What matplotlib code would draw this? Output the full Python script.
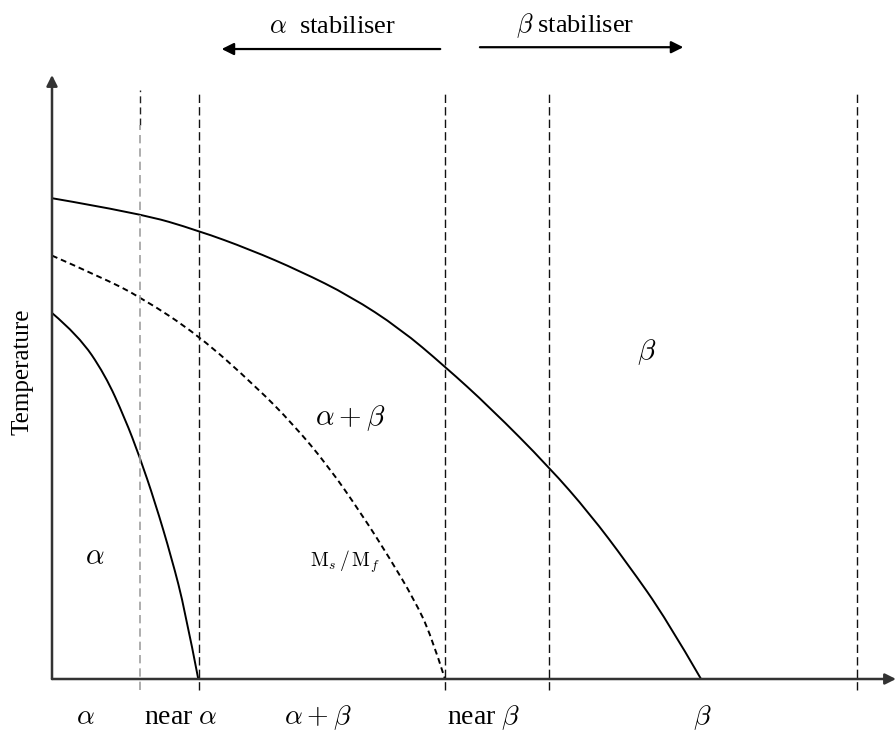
import numpy as np
import matplotlib
matplotlib.use("Agg")
import matplotlib.pyplot as plt
from matplotlib.path import Path
from matplotlib.patches import PathPatch

# ---------------- DATA ----------------
# composition axis 0..100 (arbitrary), temperature axis 0..100 (arbitrary)
BOUNDARY_X = [10.4, 17.4, 46.6, 58.9, 95.4]     # dashed class dividers

BETA_TRANSUS_X = [0, 10.43, 17.30, 23.46, 29.38, 35.31, 41.23, 46.56, 51.90, 58.89, 63.74, 68.13, 72.87, 76.90]
BETA_TRANSUS_T = [79.6, 77.1, 74.26, 71.11, 67.55, 63.41, 58.03, 51.74, 44.95, 35.10, 27.32, 19.21, 9.77, 0]

MS_MF_X = [0, 5.69, 10.43, 17.33, 24.25, 28.55, 32.70, 36.73, 40.05, 42.89, 44.91, 46.56]
MS_MF_T = [70.1, 66.6, 63.3, 56.95, 48.3, 42.2, 35.3, 27.2, 19.9, 13.2, 7.3, 0]

ALPHA_SOLVUS_X = [0, 3.12, 6.28, 8.65, 10.34, 12.20, 14.18, 15.76, 17.33]
ALPHA_SOLVUS_T = [60.6, 56.9, 50.4, 43.1, 36.95, 29.3, 20.0, 11.4, 0]

CLASS_LABELS = [r'$\alpha$', r'near $\alpha$', r'$\alpha+\beta$', r'near $\beta$', r'$\beta$']
CLASS_X = [4.0, 15.3, 31.5, 51.1, 77.0]

REGION_LABELS = [r'$\alpha$', r'$\alpha+\beta$', r'$\beta$']
REGION_X = [5.1, 35.3, 70.5]
REGION_T = [20.2, 43.2, 54.1]
# ----------------------------------------

plt.rcParams['font.family'] = 'Liberation Serif'
plt.rcParams['mathtext.fontset'] = 'cm'


def smooth_path(xs, ys):
    # quadratic B-spline: the read points act as control points,
    # which irons out small reading errors; ends stay on the first/last point
    pts = np.column_stack([xs, ys]).astype(float)
    n = len(pts)
    verts = [pts[0]]
    codes = [Path.MOVETO]
    for i in range(1, n - 1):
        end = pts[n - 1] if i == n - 2 else (pts[i] + pts[i + 1]) / 2
        verts += [pts[i], end]
        codes += [Path.CURVE3, Path.CURVE3]
    return Path(verts, codes)


fig = plt.figure(figsize=(8.96, 7.31), dpi=100)
# plot frame: origin at px (52, 679), x end at 896, y end at 75
ax = fig.add_axes([52 / 896, 52 / 731, 844 / 896, 604 / 731])
ax.set_xlim(0, 100)
ax.set_ylim(0, 100)
ax.axis('off')

# dashed dividers
for i, bx in enumerate(BOUNDARY_X):
    if i == 0:
        ax.plot([bx, bx], [91.7, 97.5], ls=(0, (5, 3)), lw=1, color='#222', clip_on=False)
        ax.plot([bx, bx], [-1.8, 91.7], ls=(0, (5, 3)), lw=1.2, color='#a0a0a0', clip_on=False)
    else:
        ax.plot([bx, bx], [-1.8, 97.5], ls=(0, (6, 3)), lw=1, color='#111', clip_on=False)

# phase boundary curves
ax.add_patch(PathPatch(smooth_path(BETA_TRANSUS_X, BETA_TRANSUS_T), fill=False,
                       edgecolor='black', lw=1.4))
ax.add_patch(PathPatch(smooth_path(MS_MF_X, MS_MF_T), fill=False,
                       edgecolor='black', lw=1.4, ls=(0, (3, 2))))
ax.add_patch(PathPatch(smooth_path(ALPHA_SOLVUS_X, ALPHA_SOLVUS_T), fill=False,
                       edgecolor='black', lw=1.4))

# axes arrows
arrow_kw = dict(arrowstyle='-|>', mutation_scale=16, lw=1.8, color='#333',
                shrinkA=0, shrinkB=0)
ax.annotate('', xy=(0, 100), xytext=(0, 0), arrowprops=arrow_kw, annotation_clip=False)
ax.annotate('', xy=(100, 0), xytext=(0, 0), arrowprops=arrow_kw, annotation_clip=False)

# stabiliser arrows
stab_kw = dict(arrowstyle='-|>', mutation_scale=18, lw=1.6, color='black',
               shrinkA=0, shrinkB=0)
ax.annotate('', xy=(20.1, 104.3), xytext=(46.0, 104.3), arrowprops=stab_kw, annotation_clip=False)
ax.annotate('', xy=(74.8, 104.6), xytext=(50.7, 104.6), arrowprops=stab_kw, annotation_clip=False)
ax.text(33.2, 107.9, r'$\alpha$  stabiliser', fontsize=19, ha='center', va='center', clip_on=False)
ax.text(62.0, 108.2, r'$\beta$ stabiliser', fontsize=19, ha='center', va='center', clip_on=False)

# class labels under the axis
for lab, cx in zip(CLASS_LABELS, CLASS_X):
    ax.text(cx, -7.45, lab, fontsize=20, ha='center', va='baseline', clip_on=False)

# region labels
for lab, rx, rt in zip(REGION_LABELS, REGION_X, REGION_T):
    ax.text(rx, rt, lab, fontsize=21, ha='center', va='center')
ax.text(34.7, 19.4, r'$\mathrm{M}_s\,/\,\mathrm{M}_f$', fontsize=14, ha='center', va='center')

ax.text(-3.55, 50.8, 'Temperature', fontsize=18, rotation=90, ha='center', va='center',
        clip_on=False)

fig.savefig('out.png', dpi=100)
